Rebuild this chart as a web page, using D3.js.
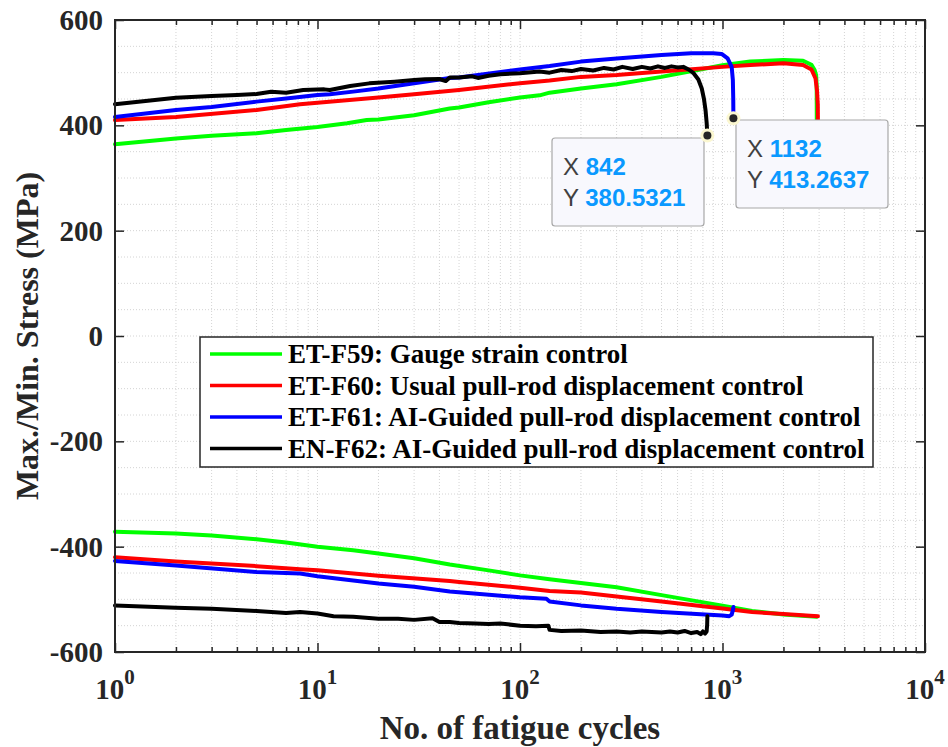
<!DOCTYPE html>
<html>
<head>
<meta charset="utf-8">
<script src="https://cdn.jsdelivr.net/npm/d3@7"></script>
<style>
  html, body { margin: 0; padding: 0; background: #ffffff; }
  svg { display: block; }
</style>
</head>
<body>
<div id="chart"></div>
<script>
// ---------------- DATA ----------------
// ET-F59 (green) max/min stress  [cycle, MPa]
const f59Max = [[1,364],[2,375],[3,380],[5,385],[7,391],[10,397],[14,404],[17.5,410],[20,411],[30,419],[45,432],[50,434],[70,444],[100,453],[125,457],[140,462],[200,470],[300,478],[500,492],[617,499],[800,507],[1000,514],[1370,521],[2000,524],[2500,522.7],[2750,515],[2850,505],[2900,495],[2918,475],[2920,440],[2921,405]];
const f59Min = [[1,-371.5],[2,-375],[3,-379],[5,-386],[7,-392],[10,-400],[15,-407],[20,-413],[30,-422],[45,-434],[70,-445],[100,-454.5],[140,-462],[200,-469],[300,-477],[500,-492],[1000,-512],[1400,-522],[2000,-529],[2920,-533]];
// ET-F60 (red)
const f60Max = [[1,410],[2,416],[5,429],[8.2,440],[10,443],[20,453],[30,459],[50,467],[100,480],[140,485],[200,492],[300,495.5],[500,502],[1000,511],[1370,514.5],[2000,517.7],[2500,514.5],[2750,506],[2880,489],[2930,465],[2955,440],[2960,405]];
const f60Min = [[1,-420],[2,-428],[5,-437],[8.2,-443],[10,-445],[20,-455],[45,-465],[50,-467],[100,-478],[140,-484],[200,-487],[300,-494.5],[500,-504],[1000,-517.5],[1400,-524],[2000,-528],[2960,-532]];
// ET-F61 (blue)
const f61Max = [[1,416],[2,429],[3,435],[5,445],[7,451],[10,457.5],[11.5,459],[15,464],[20,470],[30,480],[45,490],[50,491],[100,506],[140,512.6],[200,521],[300,527],[500,533.5],[700,536.7],[900,536.7],[990,535.5],[1060,527],[1110,511],[1125,486],[1130,450],[1132,413.2637]];
const f61Min = [[1,-427],[2,-435.6],[5,-448],[8.2,-451],[10,-456],[20,-470],[30,-476],[45,-485],[100,-496],[135,-499],[140,-504],[200,-511.5],[300,-518],[500,-524],[1000,-530.5],[1080,-532],[1110,-529],[1125,-521],[1132,-514.7]];
// EN-F62 (black)
const f62Max = [[1,440],[2,452.4],[3,455.6],[4,457.5],[5,459.4],[5.9,463.8],[7,462],[8.5,467],[10.8,468.3],[11.5,467],[14.5,474.6],[18,479.7],[24,482.8],[30,486],[34,487.3],[40,488],[43,484],[45,491],[50,491],[58,493],[62,490],[70,494],[80,497],[100,499],[125,502],[140,500],[160,505],[180,503],[200,507],[230,504],[260,509],[290,506],[320,511],[360,507],[400,511],[440,508],[480,512],[520,509],[560,512],[600,510],[640,511],[680,506],[720,499],[760,487],[790,470],[810,450],[825,428],[835,405],[842,380.5321]];
const f62Min = [[1,-511.5],[2,-516],[3,-518],[5,-522],[7,-526],[8.2,-524],[10,-527],[12,-532],[15,-533],[20,-537],[25,-537],[30,-539],[37,-536],[40,-543],[45,-543],[50,-545],[60,-546],[70,-547],[80,-546],[100,-550],[120,-551],[138,-550],[140,-558],[160,-560],[200,-559],[250,-562],[300,-561],[350,-563],[400,-561],[500,-563],[550,-561],[600,-563],[650,-560],[700,-564],[750,-562],[780,-566],[800,-561],[820,-565],[835,-561],[840,-548],[842,-532]];

const seriesNames = ["ET-F59: Gauge strain control","ET-F60: Usual pull-rod displacement control","ET-F61: AI-Guided pull-rod displacement control","EN-F62: AI-Guided pull-rod displacement control"];
const seriesColors = ["#00ff00","#ff0000","#0000ff","#000000"];
const seriesMax = [f59Max, f60Max, f61Max, f62Max];
const seriesMin = [f59Min, f60Min, f61Min, f62Min];

const xMajorTicks = [1,10,100,1000,10000];
const xExponents = ["0","1","2","3","4"];
const yTicks = [-600,-400,-200,0,200,400,600];
const dataTips = [[842,380.5321],[1132,413.2637]];
const dataTipX = ["842","1132"];
const dataTipY = ["380.5321","413.2637"];

// ---------------- CHART ----------------
const W = 948, H = 747;
const L = 115, R = 925, T = 20, B = 652;
const svg = d3.select("#chart").append("svg").attr("width", W).attr("height", H);
svg.append("rect").attr("width", W).attr("height", H).attr("fill", "#fff");

const x = d3.scaleLog().domain([1, 10000]).range([L, R]);
const y = d3.scaleLinear().domain([-600, 600]).range([B, T]);

const xMinor = [];
for (let d = 0; d < 4; d++) for (let k = 2; k <= 9; k++) xMinor.push(k * Math.pow(10, d));
const yGrid = d3.range(-550, 600, 50);

// grid
const grid = svg.append("g");
grid.selectAll("line.gx").data(xMinor.concat([10,100,1000])).enter().append("line")
  .attr("x1", d => x(d)).attr("x2", d => x(d)).attr("y1", T).attr("y2", B)
  .attr("stroke", "#d4d4d4").attr("stroke-width", 1).attr("stroke-dasharray", "1,2");
grid.selectAll("line.gy").data(yGrid).enter().append("line")
  .attr("x1", L).attr("x2", R).attr("y1", d => y(d)).attr("y2", d => y(d))
  .attr("stroke", "#d4d4d4").attr("stroke-width", 1).attr("stroke-dasharray", "1,2");

// lines
const line = d3.line().x(d => x(d[0])).y(d => y(d[1])).curve(d3.curveLinear);
const plot = svg.append("g");
seriesMax.forEach((s, i) => {
  plot.append("path").attr("d", line(s)).attr("fill", "none").attr("stroke", seriesColors[i])
    .attr("stroke-width", 4).attr("stroke-linejoin", "round").attr("stroke-linecap", "round");
  plot.append("path").attr("d", line(seriesMin[i])).attr("fill", "none").attr("stroke", seriesColors[i])
    .attr("stroke-width", 4).attr("stroke-linejoin", "round").attr("stroke-linecap", "round");
});

// axes (ticks inward)
const axCol = "#262626";
function styleAxis(g) {
  g.select(".domain").remove();
  g.selectAll(".tick line").attr("stroke", axCol).attr("stroke-width", 1.5);
  g.selectAll(".tick text").remove();
}
svg.append("g").attr("transform", `translate(0,${B})`)
  .call(d3.axisBottom(x).tickValues(xMajorTicks).tickSize(-9)).call(styleAxis);
svg.append("g").attr("transform", `translate(0,${B})`)
  .call(d3.axisBottom(x).tickValues(xMinor).tickSize(-5)).call(styleAxis);
svg.append("g").attr("transform", `translate(0,${T})`)
  .call(d3.axisTop(x).tickValues(xMajorTicks).tickSize(-9)).call(styleAxis);
svg.append("g").attr("transform", `translate(0,${T})`)
  .call(d3.axisTop(x).tickValues(xMinor).tickSize(-5)).call(styleAxis);
svg.append("g").attr("transform", `translate(${L},0)`)
  .call(d3.axisLeft(y).tickValues(yTicks).tickSize(-9)).call(styleAxis);
svg.append("g").attr("transform", `translate(${R},0)`)
  .call(d3.axisRight(y).tickValues(yTicks).tickSize(-9)).call(styleAxis);

// box
svg.append("rect").attr("x", L).attr("y", T).attr("width", R - L).attr("height", B - T)
  .attr("fill", "none").attr("stroke", axCol).attr("stroke-width", 2);

// tick labels
const fontSerif = "'Liberation Serif','Times New Roman',serif";
svg.append("g").selectAll("text").data(yTicks).enter().append("text")
  .attr("x", L - 12).attr("y", d => y(d)).attr("dy", "0.35em")
  .attr("text-anchor", "end").attr("font-family", fontSerif).attr("font-weight", "bold")
  .attr("font-size", 29).attr("fill", axCol).text(d => d);
const xl = svg.append("g").selectAll("text").data(xMajorTicks).enter().append("text")
  .attr("x", d => x(d)).attr("y", 699).attr("text-anchor", "middle")
  .attr("font-family", fontSerif).attr("font-weight", "bold").attr("font-size", 29).attr("fill", axCol);
xl.append("tspan").text("10");
xl.append("tspan").attr("dy", -15).attr("font-size", 21).text((d, i) => xExponents[i]);

// axis titles
svg.append("text").attr("x", (L + R) / 2).attr("y", 739).attr("text-anchor", "middle")
  .attr("font-family", fontSerif).attr("font-weight", "bold").attr("font-size", 33).attr("fill", axCol)
  .text("No. of fatigue cycles");
svg.append("text").attr("transform", `translate(38,${(T + B) / 2}) rotate(-90)`).attr("text-anchor", "middle")
  .attr("font-family", fontSerif).attr("font-weight", "bold").attr("font-size", 32).attr("fill", axCol)
  .text("Max./Min. Stress (MPa)");

// legend
const lg = svg.append("g");
lg.append("rect").attr("x", 200).attr("y", 337).attr("width", 673).attr("height", 130)
  .attr("fill", "#fff").attr("stroke", axCol).attr("stroke-width", 1.5);
seriesNames.forEach((nm, i) => {
  const cy = 354 + i * 31.5;
  lg.append("line").attr("x1", 210).attr("x2", 282).attr("y1", cy).attr("y2", cy)
    .attr("stroke", seriesColors[i]).attr("stroke-width", 3.5);
  lg.append("text").attr("x", 288).attr("y", cy + 9).attr("font-family", fontSerif)
    .attr("font-weight", "bold").attr("font-size", 27).attr("fill", "#000").text(nm);
});

// data tips
const tipBoxes = [[552, 138, 152, 88], [736, 120, 152, 88]];
const fontSans = "'Liberation Sans', Arial, Helvetica, sans-serif";
dataTips.forEach((p, i) => {
  const [bx, by, bw, bh] = tipBoxes[i];
  const g = svg.append("g");
  g.append("rect").attr("x", bx).attr("y", by).attr("width", bw).attr("height", bh).attr("rx", 3)
    .attr("fill", "#f8f8fd").attr("stroke", "#a8a8a8").attr("stroke-width", 1.2);
  const t1 = g.append("text").attr("x", bx + 11).attr("y", by + 37).attr("font-family", fontSans).attr("font-size", 24);
  t1.append("tspan").attr("fill", "#404040").text("X ");
  t1.append("tspan").attr("fill", "#0a99ff").attr("font-weight", "bold").text(dataTipX[i]);
  const t2 = g.append("text").attr("x", bx + 11).attr("y", by + 68).attr("font-family", fontSans).attr("font-size", 24);
  t2.append("tspan").attr("fill", "#404040").text("Y ");
  t2.append("tspan").attr("fill", "#0a99ff").attr("font-weight", "bold").text(dataTipY[i]);
  g.append("circle").attr("cx", x(p[0])).attr("cy", y(p[1])).attr("r", 7).attr("fill", "#fbf7d0");
  g.append("circle").attr("cx", x(p[0])).attr("cy", y(p[1])).attr("r", 4).attr("fill", "#262626");
});
</script>
</body>
</html>
